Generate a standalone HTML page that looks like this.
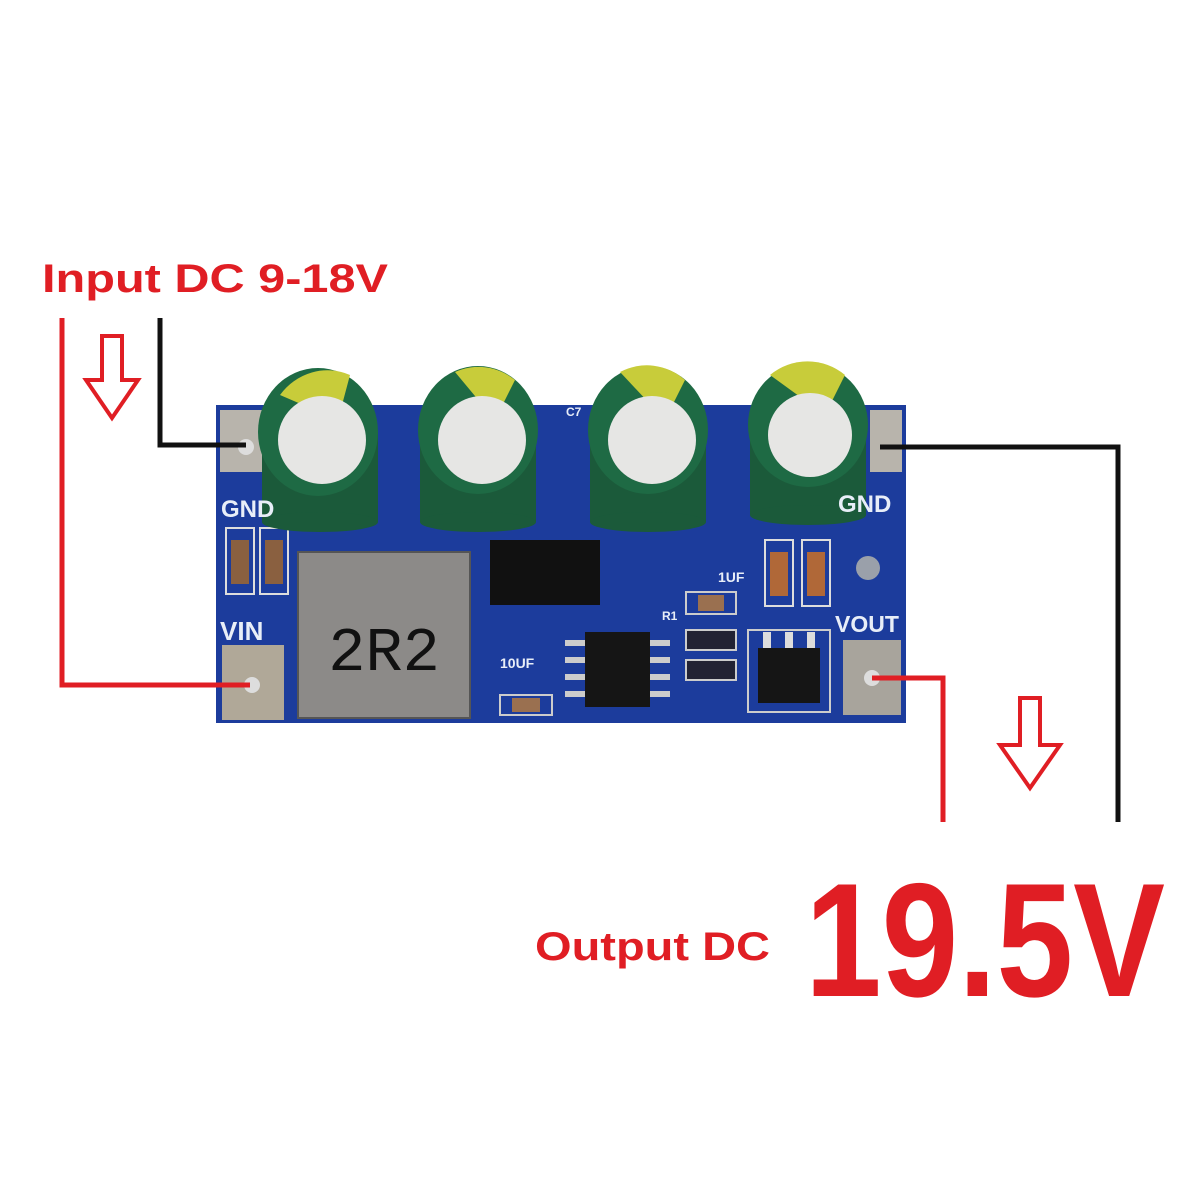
<!DOCTYPE html>
<html><head><style>
html,body{margin:0;padding:0;background:#fff;}
svg{display:block;}
</style></head><body>
<svg width="1200" height="1200" viewBox="0 0 1200 1200" xmlns="http://www.w3.org/2000/svg">
<rect width="1200" height="1200" fill="#fff"/>
<!-- board -->
<rect x="216" y="405" width="690" height="318" fill="#1c3c9c"/>
<!-- pads -->
<rect x="220" y="410" width="52" height="62" fill="#b8b4ac"/>
<circle cx="246" cy="447" r="8" fill="#ddd"/>
<rect x="870" y="410" width="32" height="62" fill="#b8b4ac"/>
<rect x="222" y="645" width="62" height="75" fill="#b0a898"/>
<circle cx="252" cy="685" r="8" fill="#ddd"/>
<rect x="843" y="640" width="58" height="75" fill="#a8a49c"/>
<circle cx="872" cy="678" r="8" fill="#ddd"/>
<circle cx="868" cy="568" r="12" fill="#9aa0aa"/>
<!-- small caps -->
<rect x="226" y="528" width="28" height="66" fill="none" stroke="#ddd" stroke-width="2"/>
<rect x="231" y="540" width="18" height="44" fill="#8a6040"/>
<rect x="260" y="528" width="28" height="66" fill="none" stroke="#ddd" stroke-width="2"/>
<rect x="265" y="540" width="18" height="44" fill="#8a6040"/>
<rect x="765" y="540" width="28" height="66" fill="none" stroke="#ddd" stroke-width="2"/>
<rect x="770" y="552" width="18" height="44" fill="#b06838"/>
<rect x="802" y="540" width="28" height="66" fill="none" stroke="#ddd" stroke-width="2"/>
<rect x="807" y="552" width="18" height="44" fill="#b06838"/>
<!-- inductor -->
<rect x="298" y="552" width="172" height="166" fill="#8c8a88"/>
<rect x="298" y="552" width="172" height="166" fill="none" stroke="#555" stroke-width="2"/>
<text x="384" y="670" font-family="Liberation Mono, monospace" font-size="62" fill="#111" text-anchor="middle">2R2</text>
<!-- diode -->
<rect x="490" y="540" width="110" height="65" fill="#111"/>
<!-- IC -->
<rect x="585" y="632" width="65" height="75" fill="#151515"/>
<g fill="#ccc"><rect x="565" y="640" width="20" height="6"/><rect x="565" y="657" width="20" height="6"/><rect x="565" y="674" width="20" height="6"/><rect x="565" y="691" width="20" height="6"/>
<rect x="650" y="640" width="20" height="6"/><rect x="650" y="657" width="20" height="6"/><rect x="650" y="674" width="20" height="6"/><rect x="650" y="691" width="20" height="6"/></g>
<rect x="686" y="592" width="50" height="22" fill="none" stroke="#ccc" stroke-width="2"/><rect x="698" y="595" width="26" height="16" fill="#9a7050"/>
<rect x="686" y="630" width="50" height="20" fill="#223" stroke="#ccc" stroke-width="2"/>
<rect x="686" y="660" width="50" height="20" fill="#223" stroke="#ccc" stroke-width="2"/>
<rect x="500" y="695" width="52" height="20" fill="none" stroke="#ccc" stroke-width="2"/><rect x="512" y="698" width="28" height="14" fill="#9a7050"/>
<!-- regulator -->
<rect x="748" y="630" width="82" height="82" fill="none" stroke="#ccc" stroke-width="2"/>
<rect x="758" y="648" width="62" height="55" fill="#151515"/>
<g fill="#ddd"><rect x="763" y="632" width="8" height="16"/><rect x="785" y="632" width="8" height="16"/><rect x="807" y="632" width="8" height="16"/></g>
<!-- capacitors -->
<g>
<rect x="262" y="430" width="116" height="92" fill="#1b5a3a"/><ellipse cx="320" cy="522" rx="58" ry="10" fill="#1b5a3a"/>
<ellipse cx="318" cy="432" rx="60" ry="64" fill="#1e6a44"/><path d="M280 395 A60 64 0 0 1 350 375 L338 420 Z" fill="#c8cc3a"/>
<circle cx="322" cy="440" r="44" fill="#e6e6e4"/>
<rect x="420" y="430" width="116" height="92" fill="#1b5a3a"/><ellipse cx="478" cy="522" rx="58" ry="10" fill="#1b5a3a"/>
<ellipse cx="478" cy="430" rx="60" ry="64" fill="#1e6a44"/><path d="M455 372 A60 64 0 0 1 515 380 L495 420 Z" fill="#c8cc3a"/>
<circle cx="482" cy="440" r="44" fill="#e6e6e4"/>
<rect x="590" y="430" width="116" height="92" fill="#1b5a3a"/><ellipse cx="648" cy="522" rx="58" ry="10" fill="#1b5a3a"/>
<ellipse cx="648" cy="430" rx="60" ry="64" fill="#1e6a44"/><path d="M620 372 A60 64 0 0 1 685 380 L665 420 Z" fill="#c8cc3a"/>
<circle cx="652" cy="440" r="44" fill="#e6e6e4"/>
<rect x="750" y="425" width="116" height="90" fill="#1b5a3a"/><ellipse cx="808" cy="515" rx="58" ry="10" fill="#1b5a3a"/>
<ellipse cx="808" cy="425" rx="60" ry="62" fill="#1e6a44"/><path d="M770 375 A60 62 0 0 1 845 375 L825 415 Z" fill="#c8cc3a"/>
<circle cx="810" cy="435" r="42" fill="#e6e6e4"/>
</g>
<!-- labels on board -->
<g font-family="Liberation Sans, sans-serif" font-weight="bold" fill="#e8eef8">
<text x="221" y="517" font-size="24">GND</text>
<text x="838" y="512" font-size="24">GND</text>
<text x="220" y="640" font-size="26">VIN</text>
<text x="835" y="632" font-size="23">VOUT</text>
<text x="718" y="582" font-size="14">1UF</text>
<text x="500" y="668" font-size="14">10UF</text>
<text x="662" y="620" font-size="12">R1</text>
<text x="566" y="416" font-size="12">C7</text>
</g>
<!-- wires -->
<polyline points="62,318 62,685 250,685" fill="none" stroke="#e01e24" stroke-width="5"/>
<polyline points="160,318 160,445 246,445" fill="none" stroke="#111" stroke-width="5"/>
<polyline points="880,447 1118,447 1118,822" fill="none" stroke="#111" stroke-width="5"/>
<polyline points="872,678 943,678 943,822" fill="none" stroke="#e01e24" stroke-width="5"/>
<!-- arrows -->
<polygon points="102,336 122,336 122,380 138,380 112,418 86,380 102,380" fill="#fff" stroke="#e01e24" stroke-width="4"/>
<polygon points="1020,698 1040,698 1040,745 1060,745 1030,788 1000,745 1020,745" fill="#fff" stroke="#e01e24" stroke-width="4"/>
<!-- text -->
<g font-family="Liberation Sans, sans-serif" font-weight="bold" fill="#e01e24">
<text x="42" y="292" font-size="40" textLength="346" lengthAdjust="spacingAndGlyphs">Input DC 9-18V</text>
<text x="535" y="960" font-size="40" textLength="235" lengthAdjust="spacingAndGlyphs">Output DC</text>
<text x="805" y="996" font-size="162" textLength="360" lengthAdjust="spacingAndGlyphs">19.5V</text>
</g>
</svg>
</body></html>
